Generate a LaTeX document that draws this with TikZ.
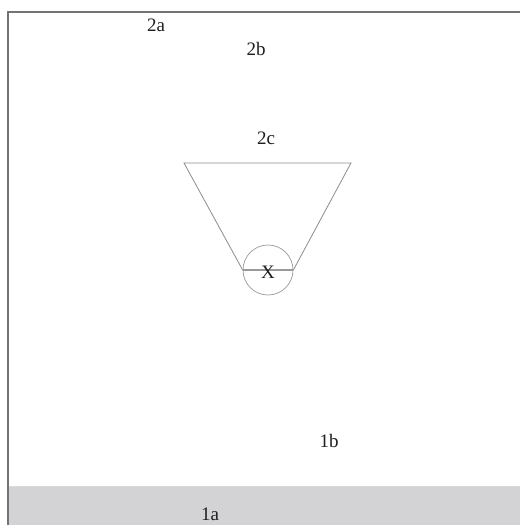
\documentclass[tikz,border=0pt]{standalone}
\usepackage{fontspec}
\setmainfont{Liberation Serif}
\begin{document}
\begin{tikzpicture}[x=1pt,y=-1pt,
  lbl/.style={font=\fontsize{19}{21}\selectfont, text=black!88, inner sep=0pt},
  thin line/.style={draw=black!45, line width=0.8pt},
  frame line/.style={draw=black!55, line width=2pt}]
\useasboundingbox (0,0) rectangle (520,525);
\fill[white] (0,0) rectangle (520,525);
% ground band
\fill[fill={rgb,255:red,211;green,211;blue,214}] (8,486) rectangle (520,525);
\draw[draw=white!85!black, line width=0.6pt] (8,486) -- (520,486);
% frame
\draw[frame line] (8,525) -- (8,12) -- (520,12);
% trapezoid and circle
\coordinate (tl) at (184,163);
\coordinate (tr) at (351,163);
\node[circle, draw=black!40, line width=0.7pt, minimum size=50pt, inner sep=0pt] (x) at (268,270) {};
\draw[thin line] (x.west) -- (tl) -- (tr) -- (x.east);
\draw[draw=black!40, line width=2.2pt] (x.west) -- (x.east);
\node[lbl] (xl) at (268,272) {X};
% labels
\node[lbl] (l2a) at (156,25) {2a};
\node[lbl] (l2b) at (256,49) {2b};
\node[lbl] (l2c) at (266,138) {2c};
\node[lbl] (l1b) at (329,441) {1b};
\node[lbl] (l1a) at (210,514) {1a};
\end{tikzpicture}
\end{document}
